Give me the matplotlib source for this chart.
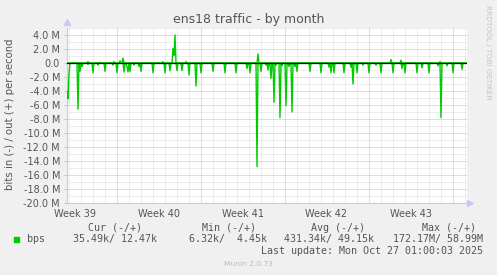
import numpy as np
import matplotlib
matplotlib.use("Agg")
import matplotlib.pyplot as plt

# ---------------- data (Mbit/s) ----------------
title = "ens18 traffic - by month"
ylabel = "bits in (-) / out (+) per second"
week_labels = ["Week 39", "Week 40", "Week 41", "Week 42", "Week 43"]

# days since graph start (2-hour samples), inbound magnitudes (drawn negative)
in_days = [0.0, 0.083, 0.167, 0.94, 1.08, 1.22, 1.75, 2.19, 2.6, 3.17, 3.81, 4.19, 4.75,
           4.97, 5.11, 5.28, 5.58, 6.03, 6.19, 7.19, 8.17, 8.58, 9.14, 9.56, 10.17,
           10.73, 11.17, 12.14, 13.17, 14.11, 15.03, 15.22, 15.86, 16.19, 16.58,
           16.75, 16.98, 17.25, 17.42, 17.73, 17.92, 18.28, 18.5, 18.78, 19.0,
           19.19, 20.22, 21.17, 21.83, 22.0, 22.23, 23.11, 23.67, 23.86, 24.14,
           24.64, 25.19, 25.75, 26.17, 27.19, 27.94, 28.17, 29.19, 29.61, 30.17,
           30.94, 31.19, 31.64, 32.19, 32.89]
in_vals = [4.1, 5.1, 1.5, 6.6, 1.2, 0.5, 0.2, 1.4, 0.3, 1.2, 0.3, 1.4, 1.3,
           0.5, 1.3, 1.2, 0.3, 0.5, 1.2, 1.4, 1.4, 1.1, 1.1, 1.1, 1.7,
           3.3, 1.4, 1.2, 1.4, 1.4, 0.8, 1.4, 14.8, 1.2, 0.3,
           1.0, 2.2, 5.6, 0.3, 7.8, 0.4, 6.1, 0.5, 7.0, 0.5,
           1.2, 1.2, 1.4, 0.6, 1.4, 1.4, 1.4, 0.6, 3.0, 1.4,
           0.3, 1.4, 0.3, 1.4, 1.4, 0.8, 1.4, 1.4, 0.7, 1.4,
           0.4, 7.8, 0.4, 1.4, 0.9]

# outbound values
out_days = [1.75, 2.75, 3.92, 4.42, 4.64, 8.0, 8.81, 8.92, 9.04, 9.9, 15.94,
            27.0, 27.86, 31.1]
out_vals = [0.2, 0.1, 0.2, 0.3, 0.7, 0.2, 2.1, 1.1, 4.0, 0.2, 1.3,
            0.5, 0.4, 0.2]

n_samples = 400            # 33.3 days at 2-hour resolution
week_starts = [4.125, 11.125, 18.125, 25.125, 32.125]
y_major = [4, 2, 0, -2, -4, -6, -8, -10, -12, -14, -16, -18, -20]

legend_headers = ["Cur (-/+)", "Min (-/+)", "Avg (-/+)", "Max (-/+)"]
legend_values = ["35.49k/ 12.47k", "6.32k/  4.45k", "431.34k/ 49.15k", "172.17M/ 58.99M"]
last_update = "Last update: Mon Oct 27 01:00:03 2025"

# ---------------- build series ----------------
t = np.arange(n_samples) / 12.0
s_in = np.zeros(n_samples)
s_out = np.zeros(n_samples)
for d, v in zip(in_days, in_vals):
    i = int(round(d * 12))
    s_in[i] = max(s_in[i], v)
for d, v in zip(out_days, out_vals):
    i = int(round(d * 12))
    s_out[i] = max(s_out[i], v)

# ---------------- figure ----------------
W, H = 497, 275
fig = plt.figure(figsize=(W / 100, H / 100), dpi=100, facecolor="#F0F0F0")
ax = fig.add_axes([67 / W, 1 - 203 / H, 400 / W, 175 / H])
ax.set_facecolor("white")
ax.set_xlim(0, 400 / 12)
ax.set_ylim(-20, 5)

minor_c = "#DCDCDC"
major_c = "#EFAAAA"
dot = (0, (1, 1))
# minor grid
for d in np.arange(0.125, 33.3, 1.0):
    if not any(abs(d - w) < 1e-6 for w in week_starts):
        ax.axvline(d, color=minor_c, lw=0.72, ls=dot, zorder=1)
for y in range(-19, 6, 2):
    ax.axhline(y, color=minor_c, lw=0.72, ls=dot, zorder=1)
# major grid
for w in week_starts:
    ax.axvline(w, color=major_c, lw=0.72, ls=dot, zorder=1)
for y in y_major:
    ax.axhline(y, color=major_c, lw=0.72, ls=dot, zorder=1)

ax.plot(t, -s_in, color="#00CC00", lw=1.0, zorder=3)
ax.plot(t, s_out, color="#00CC00", lw=1.0, zorder=3)
ax.axhline(0, color="black", lw=0.9, zorder=4)

for sp in ["top", "right"]:
    ax.spines[sp].set_visible(False)
axis_c = "#C8C8F8"
ax.spines["left"].set_color(axis_c)
ax.spines["bottom"].set_color(axis_c)
ax.spines["left"].set_linewidth(0.8)
ax.spines["bottom"].set_linewidth(0.8)
ax.plot([0], [1.035], marker="^", color=axis_c, ms=4, transform=ax.transAxes, clip_on=False)
ax.plot([1.008], [0], marker=">", color=axis_c, ms=4, transform=ax.transAxes, clip_on=False)

txt_c = "#555555"
ax.set_yticks(y_major)
ax.set_yticklabels([("%.1f M" % v) if v != 0 else "0.0" for v in y_major])
ax.tick_params(axis="y", length=2, width=0.6, color=major_c, pad=3, labelsize=7, labelcolor=txt_c)
ax.set_xticks([w - 3.5 for w in week_starts])
ax.set_xticklabels(week_labels)
ax.tick_params(axis="x", length=0, pad=4, labelsize=7, labelcolor=txt_c)

fig.text(248.5 / W, 1 - 20 / H, title, ha="center", va="center", fontsize=9, color=txt_c)
fig.text(10.5 / W, 1 - 114.5 / H, ylabel, ha="center", va="center", rotation=90,
         fontsize=7.3, color=txt_c)
fig.text(488 / W, 1 - 5 / H, "RRDTOOL / TOBI OETIKER", ha="center", va="top", rotation=270,
         fontsize=5.3, color="#C4C4C4")

mono = "DejaVu Sans Mono"
fs = 7.2
head_right = [141.7, 256, 365, 476]
val_right = [157.3, 266.7, 374.3, 482.7]
for h, x in zip(legend_headers, head_right):
    fig.text(x / W, 1 - 227.7 / H, h, ha="right", va="center", family=mono, fontsize=fs, color=txt_c)
for v, x in zip(legend_values, val_right):
    fig.text(x / W, 1 - 239.3 / H, v, ha="right", va="center", family=mono, fontsize=fs, color=txt_c)
fig.patches.append(plt.Rectangle((14 / W, 1 - 242 / H), 5.3 / W, 4.7 / H,
                                 transform=fig.transFigure, color="#00CC00"))
fig.text(26.7 / W, 1 - 239.3 / H, "bps", ha="left", va="center", family=mono, fontsize=fs, color=txt_c)
fig.text(482.7 / W, 1 - 250.7 / H, last_update, ha="right", va="center", family=mono,
         fontsize=fs, color=txt_c)
fig.text(248 / W, 1 - 264.3 / H, "Munin 2.0.73", ha="center", va="center", fontsize=5.4,
         color="#BBBBBB")

fig.savefig("out.png", dpi=100, facecolor=fig.get_facecolor())
